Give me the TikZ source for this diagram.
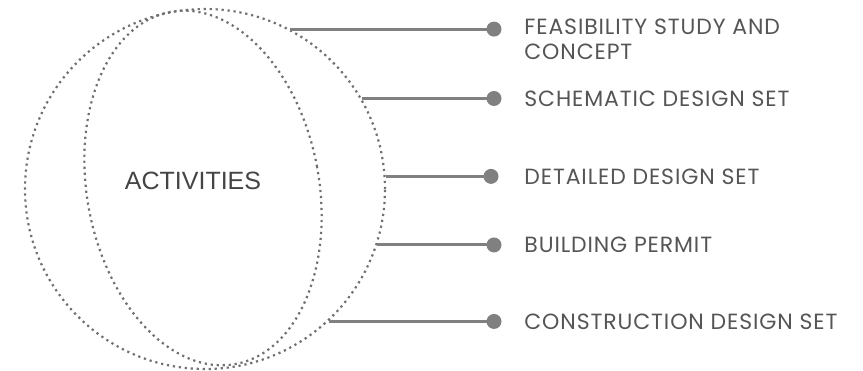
\documentclass[tikz,border=0pt]{standalone}
\usepackage{fontspec}
\setmainfont{Poppins}
\newfontfamily\lblfont[LetterSpace=4]{Poppins}
\newfontfamily\actfont{Liberation Sans}
\usetikzlibrary{positioning,shapes.geometric}
\definecolor{linegray}{HTML}{808080}
\definecolor{ringgray}{HTML}{707070}
\definecolor{textgray}{HTML}{555555}
\definecolor{darkgray}{HTML}{444444}
\tikzset{
  ring/.style={draw=ringgray,line width=2.2pt,dash pattern=on 2.2pt off 3.8pt,inner sep=0pt},
  dot/.style={circle,fill=linegray,minimum size=15pt,inner sep=0pt},
  link/.style={draw=linegray,line width=3pt},
  lbl/.style={font=\lblfont\fontsize{22}{25}\selectfont,text=textgray,align=left,inner sep=0pt},
}
\begin{document}
\begin{tikzpicture}[x=1pt,y=-1pt]
  \useasboundingbox (0,0) rectangle (863,370);
  % rings
  \node[ring,circle,minimum size=360pt] (outer) at (205,189) {};
  \node[ring,ellipse,minimum width=232pt,minimum height=358pt,rotate=10.5] (inner) at (203,188) {};
  \node[font=\actfont\fontsize{25}{30}\selectfont,text=darkgray] (act) at (193,181) {ACTIVITIES};
  % stages
  \coordinate (col) at (494,0);
  \node[dot] (d1) at (col |- outer.62) {};
  \node[dot] (d2) at (col |- outer.30.7) {};
  \node[dot,xshift=-3pt] (d3) at (col |- outer.4.5) {};
  \node[dot] (d4) at (col |- outer.-18.5) {};
  \node[dot] (d5) at (col |- outer.-47.6) {};
  \draw[link] (outer.62)--(d1.center);
  \draw[link] (outer.30.7)--(d2.center);
  \draw[link] (outer.4.5)--(d3.center);
  \draw[link] (outer.-18.5)--(d4.center);
  \draw[link] (outer.-47.6)--(d5.center);
  \node[lbl,right=22.5pt of d1,anchor=north west,yshift=10pt] (t1) {FEASIBILITY STUDY AND\\CONCEPT};
  \node[lbl,right=22.5pt of d2] (t2) {SCHEMATIC DESIGN SET};
  \node[lbl,right=25.5pt of d3] (t3) {DETAILED DESIGN SET};
  \node[lbl,right=22.5pt of d4] (t4) {BUILDING PERMIT};
  \node[lbl,right=22.5pt of d5] (t5) {CONSTRUCTION DESIGN SET};
\end{tikzpicture}
\end{document}
